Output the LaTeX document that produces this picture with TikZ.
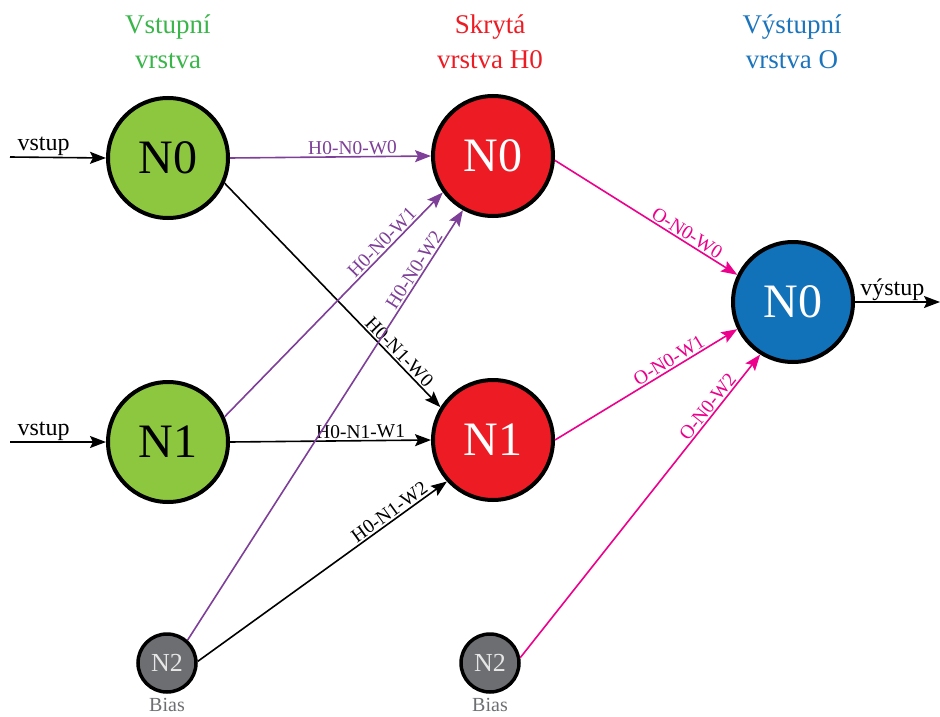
\documentclass[tikz,border=0pt]{standalone}
\usepackage{fontspec}
\setmainfont{Liberation Serif}
\usetikzlibrary{arrows.meta}
\definecolor{ngreen}{HTML}{8DC63F}
\definecolor{nred}{HTML}{ED1C24}
\definecolor{nblue}{HTML}{1172BA}
\definecolor{ngray}{HTML}{6D6E71}
\definecolor{hgreen}{HTML}{39B54A}
\definecolor{hblue}{HTML}{1C75BC}
\definecolor{cpurple}{HTML}{7E3F98}
\definecolor{cmag}{HTML}{EC008C}
\definecolor{txtgray}{HTML}{E6E6E6}
\begin{document}
\begin{tikzpicture}[x=1pt,y=-1pt,
  bignode/.style={circle, draw=black, line width=4pt, minimum size=120pt, inner sep=0pt, font=\rmfamily\fontsize{48}{48}\selectfont},
  biasnode/.style={circle, draw=black, line width=3.5pt, minimum size=58pt, inner sep=0pt, fill=ngray, text=txtgray, font=\rmfamily\fontsize{26}{26}\selectfont},
  header/.style={align=center, font=\rmfamily\fontsize{27}{35}\selectfont},
  conn/.style={line width=1.6pt, -{Stealth[length=16pt,width=12pt,inset=3pt]}},
  wlabel/.style={sloped, above, inner sep=1.5pt, font=\rmfamily\fontsize{19.5}{19.5}\selectfont},
  biaslabel/.style={text=ngray, font=\rmfamily\fontsize{20}{20}\selectfont}
]
\useasboundingbox (0,0) rectangle (940,717);

% headers
\node[header, text=hgreen] (hin) at (168,42) {Vstupní\\vrstva};
\node[header, text=nred] (hhid) at (490,42) {Skrytá\\vrstva H0};
\node[header, text=hblue] (hout) at (792,42) {Výstupní\\vrstva O};

% nodes
\node[bignode, fill=ngreen] (in0) at (168,158) {N0};
\node[bignode, fill=ngreen] (in1) at (168,442) {N1};
\node[bignode, fill=nred, text=white] (h0) at (493,156) {N0};
\node[bignode, fill=nred, text=white] (h1) at (493,440) {N1};
\node[bignode, fill=nblue, text=white] (out) at (793,302) {N0};
\node[biasnode] (b1) at (167,663) {N2};
\node[biasnode] (b2) at (490,663) {N2};
\node[biaslabel] (bl1) at (167,705) {Bias};
\node[biaslabel] (bl2) at (490,705) {Bias};

% free ends
\coordinate (vs0) at (10,157);
\coordinate (vs1) at (10,442);
\coordinate (vy) at (940,302);

% inputs / output
\draw[conn] (vs0) -- node[above, pos=0.35, inner sep=0.5pt, font=\rmfamily\fontsize{24}{24}\selectfont] {vstup} (in0.west);
\draw[conn] (vs1) -- node[above, pos=0.35, inner sep=0.5pt, font=\rmfamily\fontsize{24}{24}\selectfont] {vstup} (in1.west);
\draw[conn] (out.east) -- node[above, pos=0.44, inner sep=0.5pt, font=\rmfamily\fontsize{24}{24}\selectfont] {výstup} (vy);

% input -> hidden
\draw[conn, cpurple] (in0.east) -- node[wlabel, pos=0.61] {H0-N0-W0} (h0.west);
\draw[conn, black] (in0.-24) -- node[wlabel, pos=0.78] {H0-N1-W0} (h1.148);
\draw[conn, cpurple] (in1.24) -- node[wlabel, pos=0.75] {H0-N0-W1} (h0.216);
\draw[conn, black] (in1.east) -- node[wlabel, pos=0.65] {H0-N1-W1} (h1.west);
\draw[conn, cpurple] (b1.48) -- node[wlabel, pos=0.85] {H0-N0-W2} (h0.241);
\draw[conn, black] (b1.3) -- node[wlabel, pos=0.79] {H0-N1-W2} (h1.222);

% hidden -> output
\draw[conn, cmag] (h0.-4) -- node[wlabel, pos=0.70] {O-N0-W0} (out.154);
\draw[conn, cmag] (h1.east) -- node[wlabel, pos=0.65] {O-N0-W1} (out.206);
\draw[conn, cmag] (b2.10) -- node[wlabel, pos=0.81] {O-N0-W2} (out.238);
\end{tikzpicture}
\end{document}
